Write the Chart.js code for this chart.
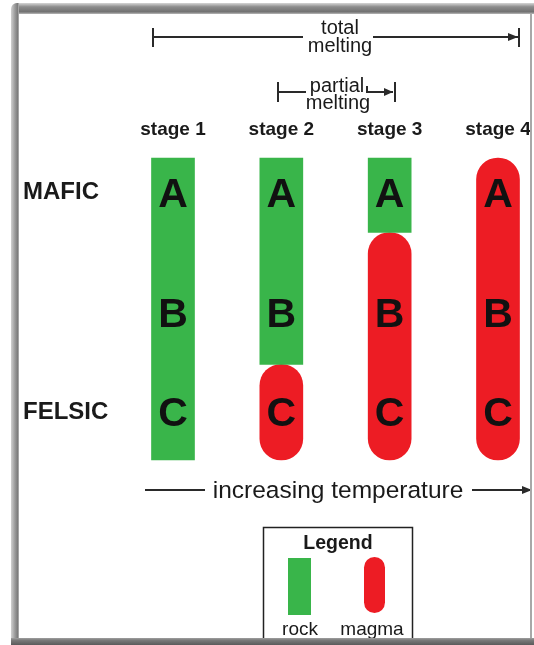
<!DOCTYPE html>
<html>
<head>
<meta charset="utf-8">
<script src="https://cdn.jsdelivr.net/npm/chart.js@4"></script>
<style>
  html, body { margin: 0; padding: 0; background: #ffffff; }
  #wrap { position: relative; width: 534px; height: 645px; }
</style>
</head>
<body>
<div id="wrap"><canvas id="c"></canvas></div>
<script>
// ---- data ----
const stages = ['stage 1', 'stage 2', 'stage 3', 'stage 4'];
const seriesNames = ['rock', 'magma'];
// vertical extent of each part of a column (0 = bottom of column, 3 = top)
const rockFrom  = [0, 0.95, 2.26, null];
const rockTo    = [3, 3,    3,    null];
const magmaFrom = [null, 0,    0,    0];
const magmaTo   = [null, 0.95, 2.26, 3];
// letters drawn inside each column
const layerLabels = ['A', 'B', 'C'];
const layerLevels = [2.66, 1.47, 0.48];
// row labels on the left
const rowLabels = ['MAFIC', 'FELSIC'];
const rowLevels = [2.66, 0.47];
// annotation texts
const totalText = ['total', 'melting'];
const partialText = ['partial', 'melting'];
const axisText = 'increasing temperature';
const legendTitle = 'Legend';

const GREEN = '#39b54a';
const RED = '#ed1c24';
const INK = '#1a1a1a';
const FONT = "'Liberation Sans', Arial, Helvetica, sans-serif";

const pair = (a, b) => a.map((v, i) => (v === null ? null : [v, b[i]]));

const letters = {
  id: 'letters',
  afterDatasetsDraw(chart) {
    const ctx = chart.ctx, xs = chart.scales.x, ys = chart.scales.y;
    ctx.save();
    const size = 41;
    ctx.font = 'bold ' + size + 'px ' + FONT;
    ctx.fillStyle = '#111';
    ctx.textAlign = 'center';
    ctx.textBaseline = 'alphabetic';
    stages.forEach((s, i) => {
      layerLabels.forEach((l, j) => {
        const x = xs.getPixelForValue(i);
        const y = ys.getPixelForValue(layerLevels[j]);
        ctx.fillText(l, x, y + 0.358 * size);
      });
    });
    ctx.restore();
  }
};

function arrowLine(ctx, pts, head) {
  ctx.beginPath();
  ctx.moveTo(pts[0][0], pts[0][1]);
  for (let k = 1; k < pts.length; k++) ctx.lineTo(pts[k][0], pts[k][1]);
  ctx.stroke();
  if (head) {
    const [tx, ty] = pts[pts.length - 1];
    ctx.beginPath();
    ctx.moveTo(tx, ty);
    ctx.lineTo(tx - head, ty - 4);
    ctx.lineTo(tx - head, ty + 4);
    ctx.closePath();
    ctx.fill();
  }
}
function tick(ctx, x, y1, y2) {
  ctx.beginPath(); ctx.moveTo(x, y1); ctx.lineTo(x, y2); ctx.stroke();
}

const decor = {
  id: 'decor',
  afterDraw(chart) {
    const ctx = chart.ctx;
    ctx.save();
    ctx.strokeStyle = '#2a2a2a';
    ctx.fillStyle = '#2a2a2a';
    ctx.lineWidth = 2;
    // total melting
    tick(ctx, 153, 28, 47);
    arrowLine(ctx, [[153, 37], [303, 37]], 0);
    arrowLine(ctx, [[373, 37], [518, 37]], 10);
    tick(ctx, 519, 28, 47);
    // partial melting
    tick(ctx, 278, 82, 102);
    arrowLine(ctx, [[278, 92], [306, 92]], 0);
    arrowLine(ctx, [[367, 86], [367, 92], [393, 92]], 9);
    tick(ctx, 395, 82, 102);
    // increasing temperature
    arrowLine(ctx, [[145, 490], [205, 490]], 0);
    arrowLine(ctx, [[472, 490], [532, 490]], 10);

    ctx.fillStyle = INK;
    ctx.textAlign = 'center';
    ctx.textBaseline = 'alphabetic';
    ctx.font = '20px ' + FONT;
    ctx.fillText(totalText[0], 340, 34);
    ctx.fillText(totalText[1], 340, 52);
    ctx.fillText(partialText[0], 337, 92);
    ctx.fillText(partialText[1], 338, 109);
    ctx.font = '24.5px ' + FONT;
    ctx.fillText(axisText, 338, 498);

    // legend box
    ctx.strokeStyle = '#222';
    ctx.lineWidth = 1.5;
    ctx.strokeRect(263.5, 527.5, 149, 130);
    ctx.font = 'bold 19.5px ' + FONT;
    ctx.fillText(legendTitle, 338, 549);
    const ds = chart.data.datasets;
    ctx.fillStyle = ds[0].backgroundColor;
    ctx.fillRect(288, 558, 23, 57);
    ctx.fillStyle = ds[1].backgroundColor;
    ctx.beginPath();
    ctx.roundRect(364, 557, 21, 56, 10.5);
    ctx.fill();
    ctx.fillStyle = INK;
    ctx.font = '19px ' + FONT;
    ctx.fillText(ds[0].label, 300, 635);
    ctx.fillText(ds[1].label, 372, 635);

    // picture frame
    let g = ctx.createLinearGradient(0, 3, 0, 14);
    g.addColorStop(0, '#d6d6d6'); g.addColorStop(0.35, '#8c8c8c');
    g.addColorStop(0.8, '#717171'); g.addColorStop(1, '#b8b8b8');
    ctx.fillStyle = g;
    ctx.beginPath();
    ctx.roundRect(12, 3, 540, 11, [6, 0, 0, 0]);
    ctx.fill();
    g = ctx.createLinearGradient(11, 0, 19, 0);
    g.addColorStop(0, '#d0d0d0'); g.addColorStop(0.5, '#9a9a9a');
    g.addColorStop(0.85, '#7a7a7a'); g.addColorStop(1, '#c4c4c4');
    ctx.fillStyle = g;
    ctx.beginPath();
    ctx.roundRect(11, 3, 8, 650, [6, 0, 0, 0]);
    ctx.fill();
    g = ctx.createLinearGradient(0, 637, 0, 645);
    g.addColorStop(0, '#b0b0b0'); g.addColorStop(0.4, '#7a7a7a'); g.addColorStop(1, '#5a5a5a');
    ctx.fillStyle = g;
    ctx.fillRect(11, 638, 530, 7);
    ctx.fillStyle = '#a8a8a8';
    ctx.fillRect(530, 14, 2, 624);
    ctx.restore();
  }
};

new Chart(document.getElementById('c'), {
  type: 'bar',
  data: {
    labels: stages,
    datasets: [
      { label: seriesNames[0], data: pair(rockFrom, rockTo), backgroundColor: GREEN,
        borderRadius: 0, borderSkipped: false, grouped: false, clip: false, barThickness: 43 },
      { label: seriesNames[1], data: pair(magmaFrom, magmaTo), backgroundColor: RED,
        borderRadius: 999, borderSkipped: false, grouped: false, clip: false, barThickness: 43 }
    ]
  },
  options: {
    responsive: true,
    maintainAspectRatio: false,
    animation: false,
    layout: { padding: { left: 23, right: 36, top: 0, bottom: 185 } },
    plugins: { legend: { display: false }, tooltip: { enabled: false }, title: { display: false } },
    scales: {
      x: {
        type: 'category', position: 'top', offset: false,
        grid: { display: false }, border: { display: false },
        ticks: { font: { family: FONT, size: 19, weight: 'bold' }, color: INK, padding: 9,
                 maxRotation: 0, autoSkip: false },
        afterFit(s) { s.height = 158; s.paddingLeft = 0; s.paddingRight = 0; }
      },
      y: {
        min: 0, max: 3, position: 'left',
        grid: { display: false }, border: { display: false },
        afterBuildTicks(s) { s.ticks = rowLevels.map(v => ({ value: v })); },
        ticks: { font: { family: FONT, size: 24, weight: 'bold' }, color: INK, padding: 0,
                 crossAlign: 'far', autoSkip: false,
                 callback: (v, i) => rowLabels[i] },
        afterFit(s) { s.width = 150; s.paddingTop = 0; s.paddingBottom = 0; }
      }
    }
  },
  plugins: [letters, decor]
});
</script>
</body>
</html>
